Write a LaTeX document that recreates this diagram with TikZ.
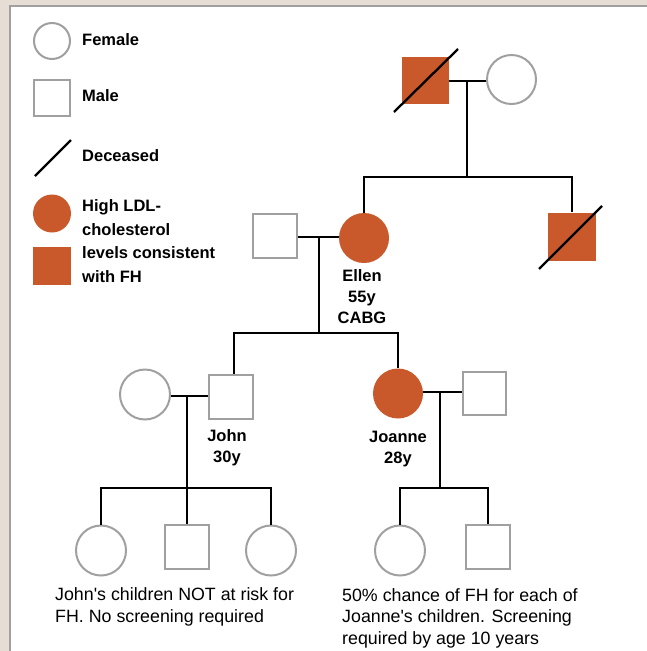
\documentclass[tikz,border=0pt]{standalone}
\usepackage{fontspec}
\setmainfont{Liberation Sans}
\usetikzlibrary{calc}
\definecolor{fhorange}{HTML}{C9582A}
\definecolor{outl}{HTML}{A0A0A0}
\definecolor{beige}{HTML}{E6DDD4}
\begin{document}
\begin{tikzpicture}[x=1pt,y=-1pt,
  fem/.style={circle,draw=outl,line width=2pt,fill=white,inner sep=0pt,minimum size=#1},
  fem/.default=49,
  male/.style={rectangle,draw=outl,line width=2pt,fill=white,inner sep=0pt,minimum size=#1},
  male/.default=44,
  afem/.style={circle,fill=fhorange,inner sep=0pt,minimum size=#1},
  afem/.default=50,
  amale/.style={rectangle,fill=fhorange,inner sep=0pt,minimum size=#1},
  amale/.default=47,
  link/.style={draw=black,line width=2.3pt},
  dec/.style={draw=black,line width=2.3pt},
  lab/.style={font=\bfseries\fontsize{16.5}{21}\selectfont,inner sep=0pt,align=center},
  note/.style={font=\fontsize{17.8}{21.5}\selectfont,inner sep=0pt,align=left}
]
\useasboundingbox (0,0) rectangle (647,651);
\fill[beige] (0,0) rectangle (647,651);
\fill[white] (10,6) rectangle (647,651);
\draw[outl,line width=1.5pt] (10,651) -- (10,6) -- (647,6);

% legend
\node[fem=36] (lfem) at (52,41) {};
\node[lab,anchor=west] (tfem) at (82,40) {Female};
\node[male=36] (lmale) at (52,97.5) {};
\node[lab,anchor=west] (tmale) at (82,96) {Male};
\coordinate (ld1) at (35,176);
\coordinate (ld2) at (71,140);
\draw[dec] (ld1) -- (ld2);
\node[lab,anchor=west] (tdec) at (82,156) {Deceased};
\node[afem=38] (lafem) at (52,213.5) {};
\node[amale=38] (lamale) at (52,266) {};
\node[lab,anchor=west,align=left,font=\bfseries\fontsize{16.5}{23.7}\selectfont] (taff) at (82,241) {High LDL-\\cholesterol\\levels consistent\\with FH};

% generation I
\node[amale] (gf) at (425,80) {};
\draw[dec] ([shift={(-31,32)}]gf.center) -- ([shift={(33,-31)}]gf.center);
\node[fem] (gm) at (511.5,79.5) {};
\coordinate (m1) at (467,81);
\coordinate (s1) at (467,177);
\draw[link] (gf.east |- m1) -- (gm.west |- m1);
\draw[link] (m1) -- (s1);

% generation II
\node[afem] (ellen) at (364,238) {};
\node[amale=48] (bro) at (572,236.5) {};
\draw[dec] ([shift={(-33,32.5)}]bro.center) -- ([shift={(30,-30.5)}]bro.center);
\draw[link] (ellen.north) |- (s1) -| (bro.north);
\node[male] (eh) at (275,235.5) {};
\coordinate (m2) at (319,237);
\coordinate (s2) at (319,333);
\draw[link] (eh.east |- m2) -- (ellen.west |- m2);
\draw[link] (m2) -- (s2);
\node[lab] (tellen) at (362,297) {Ellen\\55y\\CABG};

% generation III
\node[male] (john) at (231,396.5) {};
\node[afem] (joanne) at (398,393.5) {};
\draw[link] ([xshift=3pt]john.north) |- (s2) -| (joanne.north);
\node[fem=50] (jw) at (145,394.5) {};
\coordinate (m3) at (187,396);
\coordinate (s3) at (187,488);
\draw[link] (jw.east |- m3) -- (john.west |- m3);
\draw[link] (m3) -- (s3);
\node[male=43] (jh) at (484.5,393) {};
\coordinate (m4) at (440,392);
\coordinate (s4) at (440,488);
\draw[link] (joanne.east |- m4) -- (jh.west |- m4);
\draw[link] (m4) -- (s4);
\node[lab] (tjohn) at (227,447.5) {John\\30y};
\node[lab] (tjoanne) at (398,449) {Joanne\\28y};

% generation IV
\node[fem=50] (c1) at (101,550.5) {};
\node[male] (c2) at (187,547) {};
\node[fem=50] (c3) at (271,550.5) {};
\draw[link] (c1.north) |- (s3) -| (c3.north);
\draw[link] (s3) -- (c2.north);
\node[fem=50] (d1) at (400,550.5) {};
\node[male] (d2) at (488,547) {};
\draw[link] (d1.north) |- (s4) -| (d2.north);

\node[note,anchor=west] (n1) at (55,607) {John\textquotesingle s children NOT at risk for\\FH. No screening required};
\node[note,anchor=west] (n2) at (342,618) {50\% chance of FH for each of\\Joanne\textquotesingle s children. Screening\\required by age 10 years};
\end{tikzpicture}
\end{document}
